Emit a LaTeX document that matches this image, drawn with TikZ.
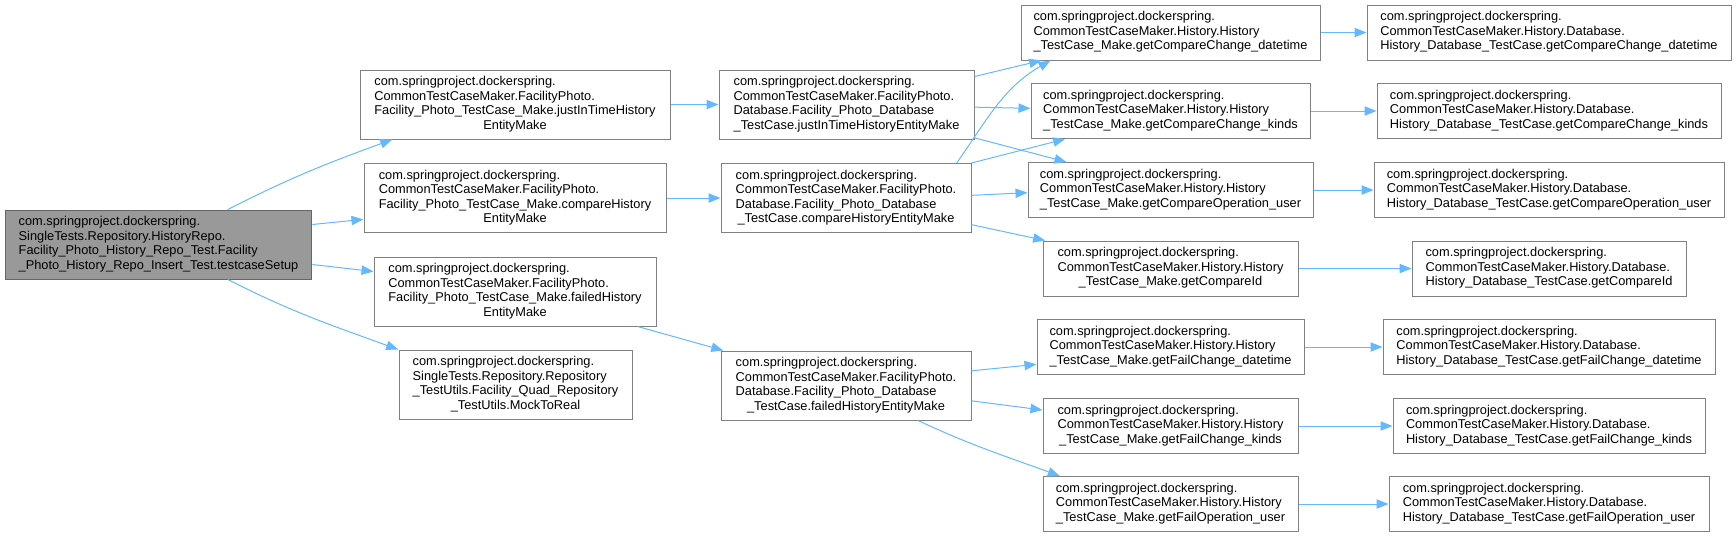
\documentclass[tikz,border=0pt]{standalone}
\usepackage{fontspec}
\setmainfont{Liberation Sans}
\usetikzlibrary{arrows.meta}
\definecolor{edgeblue}{HTML}{63B8FF}
\definecolor{boxgray}{HTML}{808080}
\definecolor{rootgray}{HTML}{999999}
\newcommand{\fnl}[2]{\begin{tabular}{@{}l@{}}#1\\\multicolumn{1}{@{}c@{}}{#2}\end{tabular}}
\begin{document}
\begin{tikzpicture}[
    x=0.75pt, y=-0.75pt,
    fn/.style={draw=boxgray, fill=white, line width=0.75pt, inner xsep=3pt, inner ysep=2pt,
      font=\fontsize{9.6pt}{10.9pt}\selectfont, minimum height=51.75pt},
    fnc/.style={fn, minimum height=41.25pt},
    root/.style={fn, fill=rootgray, draw=black!60},
    call/.style={draw=edgeblue, line width=0.75pt, -{Triangle[length=9pt,width=7pt]}},
  ]
    \useasboundingbox (0,0) rectangle (1736,537);

    \node[root, minimum width=230pt] (setup) at (158.5,244.5)
      {\fnl{com.springproject.dockerspring.\\SingleTests.Repository.HistoryRepo.\\Facility\_Photo\_History\_Repo\_Test.Facility}{\_Photo\_History\_Repo\_Insert\_Test.testcaseSetup}};

    \node[fn, minimum width=232.5pt] (mkJit) at (515,104.5)
      {\fnl{com.springproject.dockerspring.\\CommonTestCaseMaker.FacilityPhoto.\\Facility\_Photo\_TestCase\_Make.justInTimeHistory}{EntityMake}};
    \node[fn, minimum width=226.5pt] (mkCmp) at (515,198)
      {\fnl{com.springproject.dockerspring.\\CommonTestCaseMaker.FacilityPhoto.\\Facility\_Photo\_TestCase\_Make.compareHistory}{EntityMake}};
    \node[fn, minimum width=211.5pt] (mkFail) at (515,291.5)
      {\fnl{com.springproject.dockerspring.\\CommonTestCaseMaker.FacilityPhoto.\\Facility\_Photo\_TestCase\_Make.failedHistory}{EntityMake}};
    \node[fn, minimum width=174.75pt] (mock) at (515.5,384.5)
      {\fnl{com.springproject.dockerspring.\\SingleTests.Repository.Repository\\\_TestUtils.Facility\_Quad\_Repository}{\_TestUtils.MockToReal}};

    \node[fn, minimum width=191.25pt] (dbJit) at (846.5,104.5)
      {\fnl{com.springproject.dockerspring.\\CommonTestCaseMaker.FacilityPhoto.\\Database.Facility\_Photo\_Database}{\_TestCase.justInTimeHistoryEntityMake}};
    \node[fn, minimum width=187.5pt] (dbCmp) at (846,198)
      {\fnl{com.springproject.dockerspring.\\CommonTestCaseMaker.FacilityPhoto.\\Database.Facility\_Photo\_Database}{\_TestCase.compareHistoryEntityMake}};
    \node[fn, minimum width=187.5pt] (dbFail) at (846,385.5)
      {\fnl{com.springproject.dockerspring.\\CommonTestCaseMaker.FacilityPhoto.\\Database.Facility\_Photo\_Database}{\_TestCase.failedHistoryEntityMake}};

    \node[fnc, minimum width=224.25pt] (hCmpDt) at (1170.5,32.5)
      {\fnl{com.springproject.dockerspring.\\CommonTestCaseMaker.History.History}{\_TestCase\_Make.getCompareChange\_datetime}};
    \node[fnc, minimum width=209.25pt] (hCmpKd) at (1170.5,111)
      {\fnl{com.springproject.dockerspring.\\CommonTestCaseMaker.History.History}{\_TestCase\_Make.getCompareChange\_kinds}};
    \node[fnc, minimum width=213.75pt] (hCmpUs) at (1170.5,190)
      {\fnl{com.springproject.dockerspring.\\CommonTestCaseMaker.History.History}{\_TestCase\_Make.getCompareOperation\_user}};
    \node[fnc, minimum width=191.25pt] (hCmpId) at (1170.5,268.5)
      {\fnl{com.springproject.dockerspring.\\CommonTestCaseMaker.History.History}{\_TestCase\_Make.getCompareId}};
    \node[fnc, minimum width=200.25pt] (hFailDt) at (1170.5,347)
      {\fnl{com.springproject.dockerspring.\\CommonTestCaseMaker.History.History}{\_TestCase\_Make.getFailChange\_datetime}};
    \node[fnc, minimum width=191.25pt] (hFailKd) at (1170.5,426)
      {\fnl{com.springproject.dockerspring.\\CommonTestCaseMaker.History.History}{\_TestCase\_Make.getFailChange\_kinds}};
    \node[fnc, minimum width=191.25pt] (hFailUs) at (1170.5,504)
      {\fnl{com.springproject.dockerspring.\\CommonTestCaseMaker.History.History}{\_TestCase\_Make.getFailOperation\_user}};

    \node[fnc, minimum width=273pt] (hdCmpDt) at (1549,32.5)
      {\fnl{com.springproject.dockerspring.\\CommonTestCaseMaker.History.Database.}{History\_Database\_TestCase.getCompareChange\_datetime}};
    \node[fnc, minimum width=258pt] (hdCmpKd) at (1549,111)
      {\fnl{com.springproject.dockerspring.\\CommonTestCaseMaker.History.Database.}{History\_Database\_TestCase.getCompareChange\_kinds}};
    \node[fnc, minimum width=262.5pt] (hdCmpUs) at (1549,190)
      {\fnl{com.springproject.dockerspring.\\CommonTestCaseMaker.History.Database.}{History\_Database\_TestCase.getCompareOperation\_user}};
    \node[fnc, minimum width=205.5pt] (hdCmpId) at (1549,268.5)
      {\fnl{com.springproject.dockerspring.\\CommonTestCaseMaker.History.Database.}{History\_Database\_TestCase.getCompareId}};
    \node[fnc, minimum width=249pt] (hdFailDt) at (1549,347)
      {\fnl{com.springproject.dockerspring.\\CommonTestCaseMaker.History.Database.}{History\_Database\_TestCase.getFailChange\_datetime}};
    \node[fnc, minimum width=234pt] (hdFailKd) at (1549,426)
      {\fnl{com.springproject.dockerspring.\\CommonTestCaseMaker.History.Database.}{History\_Database\_TestCase.getFailChange\_kinds}};
    \node[fnc, minimum width=240pt] (hdFailUs) at (1549,504)
      {\fnl{com.springproject.dockerspring.\\CommonTestCaseMaker.History.Database.}{History\_Database\_TestCase.getFailOperation\_user}};

    \draw[call] ([xshift=52pt]setup.north) to[out=27,in=200] ([xshift=-92pt]mkJit.south);
    \draw[call] ([yshift=15pt]setup.east) -- ([yshift=-16pt]mkCmp.west);
    \draw[call] ([yshift=-15pt]setup.east) -- ([yshift=15pt]mkFail.west);
    \draw[call] ([xshift=52pt]setup.south) to[out=-27,in=160] ([xshift=-88pt]mock.north);

    \draw[call] (mkJit) -- (dbJit);
    \draw[call] (mkCmp) -- (dbCmp);
    \draw[call] ([xshift=92pt]mkFail.south) -- ([xshift=-92pt]dbFail.north);

    \draw[call] ([yshift=21pt]dbJit.east) -- ([xshift=-97pt]hCmpDt.south);
    \draw[call] ([yshift=-2pt]dbJit.east) -- ([yshift=2pt]hCmpKd.west);
    \draw[call] ([yshift=-25pt]dbJit.east) -- ([xshift=-78pt]hCmpUs.north);
    \draw[call] ([xshift=83pt]dbCmp.north) to[out=55,in=210] ([xshift=-90pt]hCmpDt.south);
    \draw[call] (dbCmp.north east) -- ([xshift=-79pt]hCmpKd.south);
    \draw[call] ([yshift=2pt]dbCmp.east) -- ([yshift=-2pt]hCmpUs.west);
    \draw[call] ([yshift=-20pt]dbCmp.east) -- ([xshift=-94pt]hCmpId.north);
    \draw[call] ([yshift=11pt]dbFail.east) -- ([yshift=-13pt]hFailDt.west);
    \draw[call] ([yshift=-11.5pt]dbFail.east) -- ([yshift=12pt]hFailKd.west);
    \draw[call] ([xshift=54pt]dbFail.south) to[out=-25,in=160] ([xshift=-83pt]hFailUs.north);

    \draw[call] (hCmpDt) -- (hdCmpDt);
    \draw[call] (hCmpKd) -- (hdCmpKd);
    \draw[call] (hCmpUs) -- (hdCmpUs);
    \draw[call] (hCmpId) -- (hdCmpId);
    \draw[call] (hFailDt) -- (hdFailDt);
    \draw[call] (hFailKd) -- (hdFailKd);
    \draw[call] (hFailUs) -- (hdFailUs);
  \end{tikzpicture}
\end{document}
